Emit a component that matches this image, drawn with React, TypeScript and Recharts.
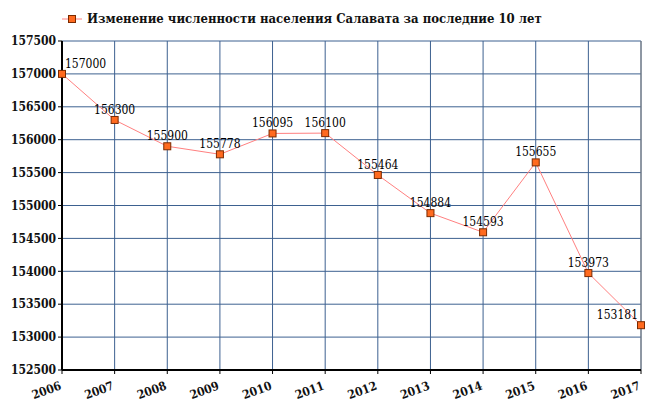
import React from 'react';
import {
  LineChart, Line, XAxis, YAxis, CartesianGrid, LabelList, ReferenceLine
} from 'recharts';

const years = ['2006', '2007', '2008', '2009', '2010', '2011', '2012', '2013', '2014', '2015', '2016', '2017'];
const population = [157000, 156300, 155900, 155778, 156095, 156100, 155464, 154884, 154593, 155655, 153973, 153181];
const yTicks = [152500, 153000, 153500, 154000, 154500, 155000, 155500, 156000, 156500, 157000, 157500];
const seriesName = 'Изменение численности населения Салавата за последние 10 лет';

const data = years.map((y, i) => ({ year: y, value: population[i] }));

const font = "'DejaVu Serif Condensed', 'DejaVu Serif', serif";

const Marker = (props: any) => {
  const { cx, cy } = props;
  if (cx == null || cy == null) return null;
  return <rect x={cx - 3.5} y={cy - 3.5} width={7} height={7} fill="#ff6a1f" stroke="#7a2a00" strokeWidth={1} />;
};

const ValueLabel = (props: any) => {
  const { x, y, value, index } = props;
  let anchor: 'start' | 'middle' | 'end' = 'middle';
  let dx = 0;
  if (index === 0) { anchor = 'start'; dx = 3; }
  if (index === years.length - 1) { anchor = 'end'; dx = -3; }
  return (
    <text x={x + dx} y={y - 6} textAnchor={anchor} style={{ fontFamily: font }} fontSize={12} fill="#000">
      {value}
    </text>
  );
};

const XTick = (props: any) => {
  const { x, y, payload } = props;
  return (
    <text x={x} y={y + 13} textAnchor="end" style={{ fontFamily: font }} fontSize={12} fontWeight="bold" fill="#111"
      transform={`rotate(-20, ${x}, ${y + 13})`}>
      {payload.value}
    </text>
  );
};

export default function App() {
  return (
    <div style={{ position: 'absolute', left: 0, top: 0, width: 659, height: 410, background: '#fff' }}>
      <div style={{ position: 'absolute', left: 62, top: 11, display: 'flex', alignItems: 'center', fontFamily: font, fontSize: 13, fontWeight: 'bold', color: '#111' }}>
        <svg width={20} height={12} style={{ marginRight: 5 }}>
          <line x1={0} y1={6} x2={20} y2={6} stroke="#ff8080" strokeWidth={1} />
          <rect x={6.5} y={2.5} width={7} height={7} fill="#ff6a1f" stroke="#7a2a00" />
        </svg>
        <span>{seriesName}</span>
      </div>
      <LineChart width={659} height={410} data={data} margin={{ top: 41, right: 18, bottom: 0, left: 0 }}>
        <CartesianGrid stroke="#3d6190" strokeWidth={1} />
        <XAxis dataKey="year" height={40} tick={<XTick />} tickLine={{ stroke: '#000' }} tickSize={4}
          axisLine={{ stroke: '#000', strokeWidth: 2 }} interval={0} />
        <YAxis type="number" domain={[152500, 157500]} ticks={yTicks} width={62} interval={0}
          tick={{ style: { fontFamily: font }, fontSize: 12, fontWeight: 'bold', fill: '#111' }} tickSize={4}
          tickLine={{ stroke: '#000' }} axisLine={{ stroke: '#000', strokeWidth: 2 }} />
        <ReferenceLine x="2017" stroke="#808080" strokeWidth={1} />
        <Line dataKey="value" stroke="#ff8080" strokeWidth={1} dot={<Marker />} activeDot={false}
          isAnimationActive={false}>
          <LabelList dataKey="value" content={<ValueLabel />} />
        </Line>
      </LineChart>
    </div>
  );
}
